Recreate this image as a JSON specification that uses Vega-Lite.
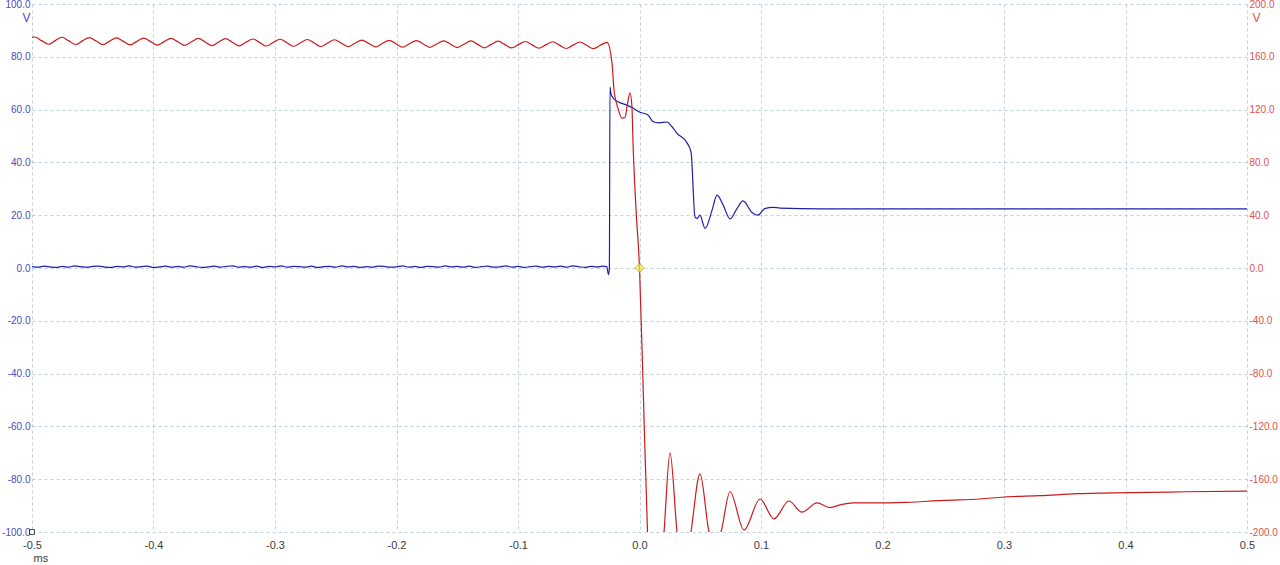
{
  "$schema": "https://vega.github.io/schema/vega-lite/v6.json",
  "width": 1215,
  "height": 528,
  "autosize": {"type": "none"},
  "padding": {"left": 32, "top": 4, "right": 33, "bottom": 33},
  "background": "#ffffff",
  "config": {
    "view": {"stroke": null},
    "font": "Liberation Sans",
    "locale": {"number": {"decimal": ".", "thousands": ",", "grouping": [3], "currency": ["$", ""], "minus": "-"}},
    "axis": {"labelFont": "Liberation Sans", "labelFontSize": 10, "titleFont": "Liberation Sans", "titleFontWeight": "normal", "titleFontSize": 12, "domain": false, "ticks": false, "gridDash": [3, 3], "gridColor": "#bfd0e0", "gridWidth": 1}
  },
  "datasets": {
    "blue": [
      {"t":-0.500,"v":0.5},{"t":-0.495,"v":0.3},{"t":-0.490,"v":0.7},{"t":-0.485,"v":0.4},{"t":-0.480,"v":0.2},
      {"t":-0.475,"v":0.6},{"t":-0.470,"v":0.3},{"t":-0.465,"v":0.8},{"t":-0.460,"v":0.5},{"t":-0.455,"v":0.3},
      {"t":-0.450,"v":0.6},{"t":-0.445,"v":0.7},{"t":-0.440,"v":0.3},{"t":-0.435,"v":0.2},{"t":-0.430,"v":0.6},
      {"t":-0.425,"v":0.4},{"t":-0.420,"v":0.8},{"t":-0.415,"v":0.3},{"t":-0.410,"v":0.5},{"t":-0.405,"v":0.7},
      {"t":-0.400,"v":0.2},{"t":-0.395,"v":0.4},{"t":-0.390,"v":0.7},{"t":-0.385,"v":0.3},{"t":-0.380,"v":0.6},
      {"t":-0.375,"v":0.3},{"t":-0.370,"v":0.8},{"t":-0.365,"v":0.5},{"t":-0.360,"v":0.2},{"t":-0.355,"v":0.4},
      {"t":-0.350,"v":0.7},{"t":-0.345,"v":0.3},{"t":-0.340,"v":0.6},{"t":-0.335,"v":0.8},{"t":-0.330,"v":0.3},
      {"t":-0.325,"v":0.5},{"t":-0.320,"v":0.3},{"t":-0.315,"v":0.7},{"t":-0.310,"v":0.2},{"t":-0.305,"v":0.6},
      {"t":-0.300,"v":0.4},{"t":-0.295,"v":0.8},{"t":-0.290,"v":0.3},{"t":-0.285,"v":0.6},{"t":-0.280,"v":0.5},
      {"t":-0.275,"v":0.3},{"t":-0.270,"v":0.7},{"t":-0.265,"v":0.2},{"t":-0.260,"v":0.5},{"t":-0.255,"v":0.6},
      {"t":-0.250,"v":0.3},{"t":-0.245,"v":0.8},{"t":-0.240,"v":0.4},{"t":-0.235,"v":0.6},{"t":-0.230,"v":0.2},
      {"t":-0.225,"v":0.5},{"t":-0.220,"v":0.3},{"t":-0.215,"v":0.7},{"t":-0.210,"v":0.6},{"t":-0.205,"v":0.3},
      {"t":-0.200,"v":0.4},{"t":-0.195,"v":0.8},{"t":-0.190,"v":0.3},{"t":-0.185,"v":0.6},{"t":-0.180,"v":0.2},
      {"t":-0.175,"v":0.6},{"t":-0.170,"v":0.5},{"t":-0.165,"v":0.3},{"t":-0.160,"v":0.8},{"t":-0.155,"v":0.4},
      {"t":-0.150,"v":0.6},{"t":-0.145,"v":0.3},{"t":-0.140,"v":0.7},{"t":-0.135,"v":0.2},{"t":-0.130,"v":0.5},
      {"t":-0.125,"v":0.7},{"t":-0.120,"v":0.3},{"t":-0.115,"v":0.4},{"t":-0.110,"v":0.8},{"t":-0.105,"v":0.3},
      {"t":-0.100,"v":0.6},{"t":-0.095,"v":0.2},{"t":-0.090,"v":0.5},{"t":-0.085,"v":0.7},{"t":-0.080,"v":0.3},
      {"t":-0.075,"v":0.6},{"t":-0.070,"v":0.4},{"t":-0.065,"v":0.7},{"t":-0.060,"v":0.3},{"t":-0.055,"v":0.8},
      {"t":-0.050,"v":0.5},{"t":-0.045,"v":0.2},{"t":-0.040,"v":0.6},{"t":-0.035,"v":0.4},{"t":-0.030,"v":0.7},
      {"t":-0.027,"v":0.5},{"t":-0.0255,"v":-2.5},{"t":-0.0248,"v":0.0},{"t":-0.0243,"v":68.5},{"t":-0.0235,"v":66.0},
      {"t":-0.0218,"v":64.5},{"t":-0.0177,"v":63.0},{"t":-0.0103,"v":61.7},{"t":-0.0054,"v":60.6},{"t":0.0004,"v":59.0},
      {"t":0.007,"v":58.0},{"t":0.011,"v":55.5},{"t":0.016,"v":55.0},{"t":0.0226,"v":55.3},{"t":0.0268,"v":53.5},
      {"t":0.0309,"v":51.0},{"t":0.039,"v":47.5},{"t":0.0424,"v":44.0},{"t":0.0457,"v":19.3},{"t":0.0475,"v":18.8},
      {"t":0.0497,"v":20.0},{"t":0.054,"v":15.0},{"t":0.0598,"v":22.0},{"t":0.0638,"v":27.6},{"t":0.0687,"v":24.0},
      {"t":0.0745,"v":18.6},{"t":0.0802,"v":22.5},{"t":0.0852,"v":25.4},{"t":0.0926,"v":21.0},{"t":0.0975,"v":20.0},
      {"t":0.103,"v":22.5},{"t":0.11,"v":23.0},{"t":0.1156,"v":22.7},{"t":0.15,"v":22.4},{"t":0.25,"v":22.4},
      {"t":0.35,"v":22.4},{"t":0.5,"v":22.4}
    ],
    "red": [
      {"t":-0.5,"v":174.7},
      {"t":-0.4977,"v":175.0},{"t":-0.4921,"v":172.25},{"t":-0.4865,"v":169.5},{"t":-0.4809,"v":172.25},
      {"t":-0.4753,"v":174.8},{"t":-0.4697,"v":172.05},{"t":-0.4641,"v":169.3},{"t":-0.4585,"v":172.05},
      {"t":-0.4528,"v":174.6},{"t":-0.4472,"v":171.9},{"t":-0.4416,"v":169.2},{"t":-0.4360,"v":171.9},
      {"t":-0.4304,"v":174.4},{"t":-0.4248,"v":171.7},{"t":-0.4192,"v":169.0},{"t":-0.4136,"v":171.7},
      {"t":-0.4080,"v":174.2},{"t":-0.4024,"v":171.5},{"t":-0.3968,"v":168.8},{"t":-0.3912,"v":171.5},
      {"t":-0.3855,"v":174.0},{"t":-0.3799,"v":171.35},{"t":-0.3743,"v":168.7},{"t":-0.3687,"v":171.35},
      {"t":-0.3631,"v":173.9},{"t":-0.3575,"v":171.2},{"t":-0.3519,"v":168.5},{"t":-0.3463,"v":171.2},
      {"t":-0.3407,"v":173.7},{"t":-0.3351,"v":171.0},{"t":-0.3295,"v":168.3},{"t":-0.3239,"v":171.0},
      {"t":-0.3183,"v":173.5},{"t":-0.3127,"v":170.85},{"t":-0.3071,"v":168.2},{"t":-0.3015,"v":170.85},
      {"t":-0.2958,"v":173.3},{"t":-0.2902,"v":170.65},{"t":-0.2846,"v":168.0},{"t":-0.2790,"v":170.65},
      {"t":-0.2734,"v":173.1},{"t":-0.2678,"v":170.45},{"t":-0.2622,"v":167.8},{"t":-0.2566,"v":170.45},
      {"t":-0.2510,"v":172.9},{"t":-0.2454,"v":170.3},{"t":-0.2398,"v":167.7},{"t":-0.2342,"v":170.3},
      {"t":-0.2285,"v":172.7},{"t":-0.2229,"v":170.1},{"t":-0.2173,"v":167.5},{"t":-0.2117,"v":170.1},
      {"t":-0.2061,"v":172.5},{"t":-0.2005,"v":169.9},{"t":-0.1949,"v":167.3},{"t":-0.1893,"v":169.9},
      {"t":-0.1837,"v":172.3},{"t":-0.1781,"v":169.75},{"t":-0.1725,"v":167.2},{"t":-0.1669,"v":169.75},
      {"t":-0.1612,"v":172.1},{"t":-0.1556,"v":169.55},{"t":-0.1500,"v":167.0},{"t":-0.1444,"v":169.55},
      {"t":-0.1388,"v":172.0},{"t":-0.1332,"v":169.4},{"t":-0.1276,"v":166.8},{"t":-0.1220,"v":169.4},
      {"t":-0.1164,"v":171.8},{"t":-0.1108,"v":169.25},{"t":-0.1052,"v":166.7},{"t":-0.0996,"v":169.25},
      {"t":-0.0940,"v":171.6},{"t":-0.0884,"v":169.05},{"t":-0.0828,"v":166.5},{"t":-0.0772,"v":169.05},
      {"t":-0.0715,"v":171.4},{"t":-0.0659,"v":168.85},{"t":-0.0603,"v":166.3},{"t":-0.0547,"v":168.85},
      {"t":-0.0491,"v":171.2},{"t":-0.0435,"v":168.7},{"t":-0.0379,"v":166.2},{"t":-0.0323,"v":168.7},
      {"t":-0.0267,"v":171.0},
      {"t":-0.0226,"v":155.0},{"t":-0.021,"v":135.0},{"t":-0.0177,"v":121.0},{"t":-0.0144,"v":113.6},
      {"t":-0.0119,"v":114.0},{"t":-0.0103,"v":122.0},{"t":-0.0078,"v":132.6},{"t":-0.0062,"v":122.0},
      {"t":-0.0054,"v":97.0},{"t":-0.0029,"v":45.0},{"t":0.0,"v":0.0},{"t":0.0033,"v":-100.0},
      {"t":0.0066,"v":-200.0},{"t":0.0136,"v":-273.0},{"t":0.0202,"v":-200.0},{"t":0.0251,"v":-140.0},
      {"t":0.0309,"v":-200.0},{"t":0.0366,"v":-235.0},{"t":0.0424,"v":-200.0},{"t":0.0498,"v":-156.0},
      {"t":0.0572,"v":-200.0},{"t":0.0621,"v":-212.0},{"t":0.0671,"v":-200.0},{"t":0.0745,"v":-169.5},
      {"t":0.086,"v":-198.5},{"t":0.0992,"v":-175.0},{"t":0.1107,"v":-190.0},{"t":0.123,"v":-176.5},
      {"t":0.1337,"v":-185.0},{"t":0.1461,"v":-178.0},{"t":0.1568,"v":-181.5},{"t":0.165,"v":-179.5},
      {"t":0.1757,"v":-178.0},{"t":0.19,"v":-178.0},{"t":0.22,"v":-177.5},{"t":0.25,"v":-176.0},
      {"t":0.28,"v":-175.0},{"t":0.30,"v":-173.5},{"t":0.33,"v":-172.5},{"t":0.36,"v":-171.0},
      {"t":0.38,"v":-170.5},{"t":0.42,"v":-170.0},{"t":0.45,"v":-169.5},{"t":0.5,"v":-169.0}
    ],
    "trigger": [{"t": 0.0, "v": 0.0}],
    "origin": [{"t": -0.5, "v": -100.0}]
  },
  "layer": [
    {
      "layer": [
        {
          "data": {"name": "blue"},
          "mark": {"type": "line", "color": "#1f1fa8", "strokeWidth": 1.2, "interpolate": "monotone", "clip": true},
          "encoding": {
            "x": {"field": "t", "type": "quantitative", "scale": {"domain": [-0.5, 0.5], "nice": false},
              "axis": {"values": [-0.5,-0.4,-0.3,-0.2,-0.1,0,0.1,0.2,0.3,0.4,0.5], "format": ".1f", "labelFlush": false, "labelFontSize": 11, "labelPadding": 7, "labelColor": "#3a3a3a", "grid": true,
                "title": "ms", "titleColor": "#3a3a3a", "titleFontSize": 11, "titleAnchor": "start", "titleAlign": "left", "titleX": 1, "titleY": 26, "titleBaseline": "middle"}},
            "y": {"field": "v", "type": "quantitative", "scale": {"domain": [-100, 100], "nice": false},
              "axis": {"orient": "left", "values": [-100,-80,-60,-40,-20,0,20,40,60,80,100], "format": ".1f", "labelColor": "#4a4ac4", "labelPadding": 2, "grid": true,
                "title": "V", "titleColor": "#4a4ac4", "titleAngle": 0, "titleAlign": "right", "titleBaseline": "middle", "titleX": -2, "titleY": 13}}
          }
        },
        {
          "data": {"name": "origin"},
          "mark": {"type": "point", "shape": "square", "size": 25, "filled": true, "fill": "#ffffff", "stroke": "#000000", "strokeWidth": 1},
          "encoding": {
            "x": {"field": "t", "type": "quantitative"},
            "y": {"field": "v", "type": "quantitative"}
          }
        }
      ]
    },
    {
      "layer": [
        {
          "data": {"name": "red"},
          "mark": {"type": "line", "color": "#cc1a1a", "strokeWidth": 1.2, "interpolate": "monotone", "clip": true},
          "encoding": {
            "x": {"field": "t", "type": "quantitative"},
            "y": {"field": "v", "type": "quantitative", "scale": {"domain": [-200, 200], "nice": false},
              "axis": {"orient": "right", "values": [-200,-160,-120,-80,-40,0,40,80,120,160,200], "format": ".1f", "labelColor": "#e05050", "labelPadding": 2, "grid": false,
                "title": "V", "titleColor": "#e05050", "titleAngle": 0, "titleAlign": "left", "titleBaseline": "middle", "titleX": 5, "titleY": 13}}
          }
        },
        {
          "data": {"name": "trigger"},
          "mark": {"type": "point", "shape": "diamond", "size": 90, "filled": true, "fill": "#f7e93c", "stroke": "#b89c00", "strokeWidth": 1},
          "encoding": {
            "x": {"field": "t", "type": "quantitative"},
            "y": {"field": "v", "type": "quantitative"}
          }
        }
      ]
    }
  ],
  "resolve": {"scale": {"y": "independent"}}
}
